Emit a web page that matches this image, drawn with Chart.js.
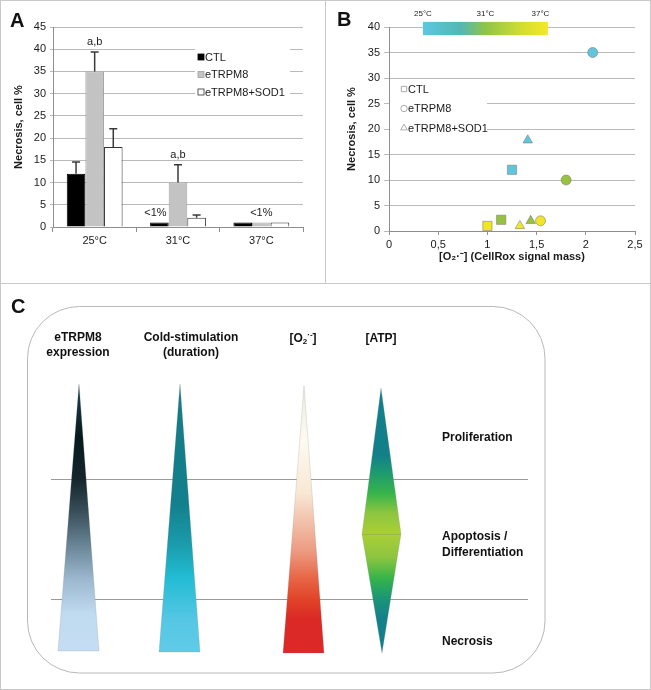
<!DOCTYPE html>
<html>
<head>
<meta charset="utf-8">
<script src="https://cdn.jsdelivr.net/npm/chart.js@4.4.1/dist/chart.umd.min.js"></script>
<style>
  body { margin: 0; background: #fff; }
  #fig { position: relative; width: 651px; height: 690px; overflow: hidden; }
  #fig canvas { position: absolute; }
  .rule { position: absolute; background: #c9c9c9; }
</style>
</head>
<body>
<div id="fig">
  <canvas id="chartA" width="325" height="283" style="left:0;top:0"></canvas>
  <canvas id="chartB" width="326" height="283" style="left:325px;top:0"></canvas>
  <canvas id="chartC" width="651" height="407" style="left:0;top:283px"></canvas>
  <div class="rule" style="left:0;top:0;width:651px;height:1px"></div>
  <div class="rule" style="left:0;top:0;width:1px;height:690px"></div>
  <div class="rule" style="left:650px;top:0;width:1px;height:690px"></div>
  <div class="rule" style="left:0;top:689px;width:651px;height:1px"></div>
  <div class="rule" style="left:325px;top:0;width:1px;height:283px"></div>
  <div class="rule" style="left:0;top:283px;width:651px;height:1px"></div>
</div>
<script>
// --- panel A : necrosis per temperature (bars) ---
const temps = ['25°C', '31°C', '37°C'];
const groups = ['CTL', 'eTRPM8', 'eTRPM8+SOD1'];
const necrosisCTL = [12, 1, 1];
const necrosisTRPM8 = [35, 10, 1];
const necrosisSOD1 = [18, 2.1, 1];
const errCTL = [2.6, 0, 0];
const errTRPM8 = [4.4, 4, 0];
const errSOD1 = [4.1, 0.6, 0];
// [dataset, category, text]
const notesA = [[1, 0, 'a,b'], [1, 1, 'a,b'], [0, 1, '<1%'], [1, 2, '<1%']];

// --- panel B : necrosis vs superoxide ---
const o2CTL = [1.25, 1.14, 1.0];
const necCTL = [12, 2.2, 1];
const o2TRPM8 = [2.07, 1.80, 1.54];
const necTRPM8 = [35, 10, 2];
const o2SOD1 = [1.41, 1.44, 1.33];
const necSOD1 = [17.8, 2, 1];
const tempColors = ['#5fc6de', '#97c23d', '#f1e52b'];

// --- panel C : scheme ---
const cueLabels = [['eTRPM8', 'expression'], ['Cold-stimulation', '(duration)'], ['[O2·-]'], ['[ATP]']];
const fateLabels = [['Proliferation'], ['Apoptosis /', 'Differentiation'], ['Necrosis']];
const cueGradients = [
  [[0, '#1b434b'], [0.2, '#061a1e'], [0.36, '#15262c'], [0.48, '#3a4f5b'], [0.61, '#6b8798'], [0.73, '#9bb8cf'], [0.86, '#c0daf0'], [1, '#c4ddf2']],
  [[0, '#137b86'], [0.45, '#13808d'], [0.6, '#1a9cad'], [0.72, '#22bcd3'], [0.88, '#55c7e4'], [1, '#60cbe8']],
  [[0, '#ecebdc'], [0.2, '#fdfbf0'], [0.4, '#f8e8d4'], [0.5, '#f2c4ae'], [0.62, '#ec9a80'], [0.72, '#e76646'], [0.8, '#e14328'], [0.87, '#db2a26'], [1, '#dc2828']],
  [[0, '#12808a'], [0.25, '#127f89'], [0.32, '#1d9a70'], [0.4, '#39b54a'], [0.47, '#8cc540'], [0.55, '#aacf35'], [0.64, '#8cc540'], [0.72, '#35b34a'], [0.79, '#1b9775'], [0.87, '#13808a'], [1, '#12808a']]
];

Chart.defaults.font.family = "'Liberation Sans', Arial, Helvetica, sans-serif";
Chart.defaults.font.size = 11;
Chart.defaults.color = '#1a1a1a';
Chart.defaults.animation = false;

const gridGray = '#bababa';
const axisGray = '#8e8e8e';

function panelLetter(letter, x, y) {
  return {
    id: 'letter' + letter,
    afterDraw(chart) {
      const ctx = chart.ctx;
      ctx.save();
      ctx.font = "bold 20px 'Liberation Sans', Arial, sans-serif";
      ctx.fillStyle = '#111';
      ctx.textBaseline = 'alphabetic';
      ctx.fillText(letter, x, y);
      ctx.restore();
    }
  };
}

// error bars (only the upper half, like the figure)
const errorBars = {
  id: 'errorBars',
  afterDatasetsDraw(chart) {
    const ctx = chart.ctx, y = chart.scales.y;
    chart.data.datasets.forEach((ds, di) => {
      chart.getDatasetMeta(di).data.forEach((bar, i) => {
        const e = ds.err[i];
        if (!e) return;
        const top = y.getPixelForValue(ds.data[i] + e);
        ctx.save();
        ctx.strokeStyle = '#3a3a3a';
        ctx.lineWidth = 1.5;
        ctx.beginPath();
        ctx.moveTo(bar.x, bar.y);
        ctx.lineTo(bar.x, top);
        ctx.moveTo(bar.x - 4, top);
        ctx.lineTo(bar.x + 4, top);
        ctx.stroke();
        ctx.restore();
      });
    });
  }
};

const notes = {
  id: 'notes',
  afterDatasetsDraw(chart) {
    const ctx = chart.ctx, y = chart.scales.y;
    ctx.save();
    ctx.font = "11px 'Liberation Sans', Arial, sans-serif";
    ctx.fillStyle = '#1a1a1a';
    ctx.textAlign = 'center';
    ctx.textBaseline = 'middle';
    notesA.forEach(([di, i, txt]) => {
      const ds = chart.data.datasets[di];
      const bar = chart.getDatasetMeta(di).data[i];
      const top = y.getPixelForValue(ds.data[i] + ds.err[i]);
      ctx.fillText(txt, bar.x - (txt === '<1%' && di === 0 ? 4 : 0), top - 10);
    });
    ctx.restore();
  }
};

const legendA = {
  id: 'legendA',
  afterDatasetsDraw(chart) {
    const ctx = chart.ctx, ca = chart.chartArea;
    const x0 = ca.left + 142, y0 = ca.top + 18;
    ctx.save();
    ctx.fillStyle = '#fff';
    ctx.fillRect(x0, y0, 95, 56);
    ctx.font = "11px 'Liberation Sans', Arial, sans-serif";
    ctx.textBaseline = 'middle';
    chart.data.datasets.forEach((ds, k) => {
      const cy = ca.top + 30 + k * 17.5;
      ctx.fillStyle = ds.backgroundColor;
      ctx.fillRect(x0 + 3, cy - 3, 6, 6);
      ctx.strokeStyle = ds.borderColor;
      ctx.lineWidth = 0.8;
      ctx.strokeRect(x0 + 3, cy - 3, 6, 6);
      ctx.fillStyle = '#1a1a1a';
      ctx.fillText(ds.label, x0 + 10, cy + 0.5);
    });
    ctx.restore();
  }
};

new Chart(document.getElementById('chartA'), {
  type: 'bar',
  data: {
    labels: temps,
    datasets: [
      { label: groups[0], data: necrosisCTL, err: errCTL, backgroundColor: '#000000', borderColor: '#000000', borderWidth: 1 },
      { label: groups[1], data: necrosisTRPM8, err: errTRPM8, backgroundColor: '#c3c3c3', borderColor: '#a0a0a0', borderWidth: 1 },
      { label: groups[2], data: necrosisSOD1, err: errSOD1, backgroundColor: '#ffffff', borderColor: '#333333', borderWidth: 1 }
    ]
  },
  options: {
    responsive: false,
    layout: { padding: { left: 0, top: 27, right: 22, bottom: 0 } },
    datasets: { bar: { barPercentage: 1, categoryPercentage: 0.67 } },
    plugins: { legend: { display: false }, tooltip: { enabled: false } },
    scales: {
      x: {
        grid: { offset: true, drawOnChartArea: false, tickLength: 5, color: axisGray },
        border: { color: axisGray },
        ticks: { padding: 2 },
        afterFit: s => { s.height = 56; }
      },
      y: {
        min: 0, max: 45,
        ticks: { stepSize: 5, padding: 4 },
        grid: { color: gridGray, tickLength: 3 },
        border: { color: axisGray },
        title: { display: true, text: 'Necrosis, cell %', font: { weight: 'bold', size: 11 }, padding: { top: 12, bottom: 0 } },
        afterFit: s => { s.width = 53; }
      }
    }
  },
  plugins: [errorBars, notes, legendA, panelLetter('A', 10, 27)]
});

// ---------- B ----------
const toPoints = (xs, ys) => xs.map((x, i) => ({ x: x, y: ys[i] }));

const colorBar = {
  id: 'colorBar',
  afterDraw(chart) {
    const ctx = chart.ctx, xs = chart.scales.x, ys = chart.scales.y;
    const x1 = xs.getPixelForValue(0.345), x2 = xs.getPixelForValue(1.615);
    const y1 = ys.getPixelForValue(41), y2 = ys.getPixelForValue(38.4);
    const g = ctx.createLinearGradient(x1, 0, x2, 0);
    g.addColorStop(0, '#5cc7e2');
    g.addColorStop(0.3, '#52b7b4');
    g.addColorStop(0.5, '#8ec549');
    g.addColorStop(0.8, '#d4de2f');
    g.addColorStop(1, '#f4e828');
    ctx.save();
    ctx.fillStyle = g;
    ctx.fillRect(x1, y1, x2 - x1, y2 - y1);
    ctx.font = "8px 'Liberation Sans', Arial, sans-serif";
    ctx.fillStyle = '#1a1a1a';
    ctx.textAlign = 'center';
    ctx.textBaseline = 'middle';
    [0, 0.5, 0.94].forEach((f, i) => ctx.fillText(temps[i], x1 + f * (x2 - x1), y1 - 8));
    ctx.restore();
  }
};

const legendB = {
  id: 'legendB',
  afterDatasetsDraw(chart) {
    const ctx = chart.ctx, ca = chart.chartArea;
    ctx.save();
    ctx.fillStyle = '#fff';
    ctx.fillRect(ca.left + 1, ca.top + 52, 97, 55);
    ctx.font = "11px 'Liberation Sans', Arial, sans-serif";
    ctx.textBaseline = 'middle';
    const radii = [3.8, 3.2, 3.8];
    chart.data.datasets.forEach((ds, k) => {
      const cy = ca.top + 62 + k * 19.5;
      ctx.fillStyle = '#fff';
      ctx.strokeStyle = '#aaaaaa';
      ctx.lineWidth = 1;
      Chart.helpers.drawPoint(ctx, { pointStyle: ds.pointStyle, radius: radii[k], rotation: 0, borderWidth: 1 }, ca.left + 15, cy);
      ctx.fillStyle = '#1a1a1a';
      ctx.fillText(ds.label, ca.left + 19, cy + 0.5);
    });
    ctx.restore();
  }
};

const scatterSets = [
  { label: groups[0], data: toPoints(o2CTL, necCTL), pointStyle: 'rect', pointRadius: 6.5 },
  { label: groups[1], data: toPoints(o2TRPM8, necTRPM8), pointStyle: 'circle', pointRadius: 5 },
  { label: groups[2], data: toPoints(o2SOD1, necSOD1), pointStyle: 'triangle', pointRadius: 5.5 }
].map(d => Object.assign(d, {
  backgroundColor: tempColors,
  borderColor: 'rgba(120,120,120,0.55)',
  borderWidth: 1,
  clip: false
}));

new Chart(document.getElementById('chartB'), {
  type: 'scatter',
  data: { datasets: scatterSets },
  options: {
    responsive: false,
    layout: { padding: { left: 0, top: 27, right: 16, bottom: 0 } },
    plugins: { legend: { display: false }, tooltip: { enabled: false } },
    scales: {
      x: {
        min: 0, max: 2.5,
        ticks: { stepSize: 0.5, padding: 3, callback: v => String(v).replace('.', ',') },
        grid: { drawOnChartArea: false, tickLength: 4, color: axisGray },
        border: { color: axisGray },
        title: { display: true, text: '[O₂·⁻] (CellRox signal mass)', font: { weight: 'bold', size: 11 }, padding: { top: 0, bottom: 19 } },
        afterFit: s => { s.height = 52; }
      },
      y: {
        min: 0, max: 40,
        ticks: { stepSize: 5, padding: 4 },
        grid: { color: gridGray, tickLength: 5 },
        border: { color: axisGray },
        title: { display: true, text: 'Necrosis, cell %', font: { weight: 'bold', size: 11 }, padding: { top: 20, bottom: 0 } },
        afterFit: s => { s.width = 64; }
      }
    }
  },
  plugins: [legendB, colorBar, panelLetter('B', 12, 26)]
});

// ---------- C ----------
// scales map figure pixels (x 0..651, y 283..690) onto this canvas
const cueX = [79, 180, 304, 381];
const cueTop = [384, 384, 386, 388];
const cueBottom = [651, 652, 653, 653];
const headerRows = [338, 353];
const fateX = 442;
const fateRows = [[438], [537, 553], [642]];
const dividers = [479, 599];

function roundRect(ctx, x, y, w, h, r) {
  ctx.beginPath();
  ctx.moveTo(x + r, y);
  ctx.arcTo(x + w, y, x + w, y + h, r);
  ctx.arcTo(x + w, y + h, x, y + h, r);
  ctx.arcTo(x, y + h, x, y, r);
  ctx.arcTo(x, y, x + w, y, r);
  ctx.closePath();
}

const scheme = {
  id: 'scheme',
  afterDraw(chart) {
    const ctx = chart.ctx, X = v => chart.scales.x.getPixelForValue(v), Y = v => chart.scales.y.getPixelForValue(v);
    ctx.save();
    // frame
    ctx.strokeStyle = '#b8b8b8';
    ctx.lineWidth = 1;
    roundRect(ctx, X(27.5), Y(306.5), X(545) - X(27.5), Y(673) - Y(306.5), 52);
    ctx.stroke();
    // divider lines
    ctx.strokeStyle = '#9a9a9a';
    dividers.forEach(d => {
      ctx.beginPath();
      ctx.moveTo(X(51), Y(d) + 0.5);
      ctx.lineTo(X(528), Y(d) + 0.5);
      ctx.stroke();
    });
    // shapes
    cueX.forEach((cx, i) => {
      const top = Y(cueTop[i]), bot = Y(cueBottom[i]);
      const g = ctx.createLinearGradient(0, top, 0, bot);
      cueGradients[i].forEach(([t, c]) => g.addColorStop(t, c));
      ctx.beginPath();
      if (i === 3) {
        const mid = Y(534);
        ctx.moveTo(X(cx), top);
        ctx.lineTo(X(cx + 20), mid);
        ctx.lineTo(X(cx + 1), bot);
        ctx.lineTo(X(cx - 19), mid);
      } else {
        ctx.moveTo(X(cx), top);
        ctx.lineTo(X(cx + 20), bot);
        ctx.lineTo(X(cx - 21), bot);
      }
      ctx.closePath();
      ctx.fillStyle = g;
      ctx.fill();
      ctx.strokeStyle = 'rgba(130,130,130,0.35)';
      ctx.lineWidth = 0.6;
      ctx.stroke();
      if (i === 3) {
        ctx.strokeStyle = 'rgba(120,120,120,0.5)';
        ctx.beginPath();
        ctx.moveTo(X(cx - 19), Y(534) + 0.5);
        ctx.lineTo(X(cx + 20), Y(534) + 0.5);
        ctx.stroke();
      }
    });
    // headers
    ctx.fillStyle = '#111';
    ctx.textBaseline = 'middle';
    const bold = "bold 12px 'Liberation Sans', Arial, sans-serif";
    const small = "bold 8px 'Liberation Sans', Arial, sans-serif";
    cueLabels.forEach((lines, i) => {
      lines.forEach((txt, r) => {
        const y = Y(headerRows[r] + (lines.length === 1 ? 1 : 0));
        if (txt === '[O2·-]') {
          ctx.font = bold;
          const a = ctx.measureText('[O').width, c = ctx.measureText(']').width;
          ctx.font = small;
          const s1 = ctx.measureText('2').width, s2 = ctx.measureText('·-').width;
          let x = X(cx0(i)) - (a + s1 + s2 + c) / 2;
          ctx.textAlign = 'left';
          ctx.font = bold; ctx.fillText('[O', x, y); x += a;
          ctx.font = small; ctx.fillText('2', x, y + 3); x += s1;
          ctx.fillText('·-', x, y - 4); x += s2;
          ctx.font = bold; ctx.fillText(']', x, y);
        } else {
          ctx.font = bold;
          ctx.textAlign = 'center';
          ctx.fillText(txt, X(cx0(i)), y);
        }
      });
    });
    // fates
    ctx.textAlign = 'left';
    ctx.font = bold;
    fateLabels.forEach((lines, i) => lines.forEach((txt, r) => ctx.fillText(txt, X(fateX), Y(fateRows[i][r]))));
    ctx.restore();
  }
};
const headerX = [78, 191, 303, 381];
function cx0(i) { return headerX[i]; }

new Chart(document.getElementById('chartC'), {
  type: 'scatter',
  data: { datasets: [] },
  options: {
    responsive: false,
    layout: { padding: 0 },
    plugins: { legend: { display: false }, tooltip: { enabled: false } },
    scales: {
      x: { display: false, min: 0, max: 651 },
      y: { display: false, min: 283, max: 690, reverse: true }
    }
  },
  plugins: [scheme, panelLetter('C', 11, 30)]
});
</script>
</body>
</html>
